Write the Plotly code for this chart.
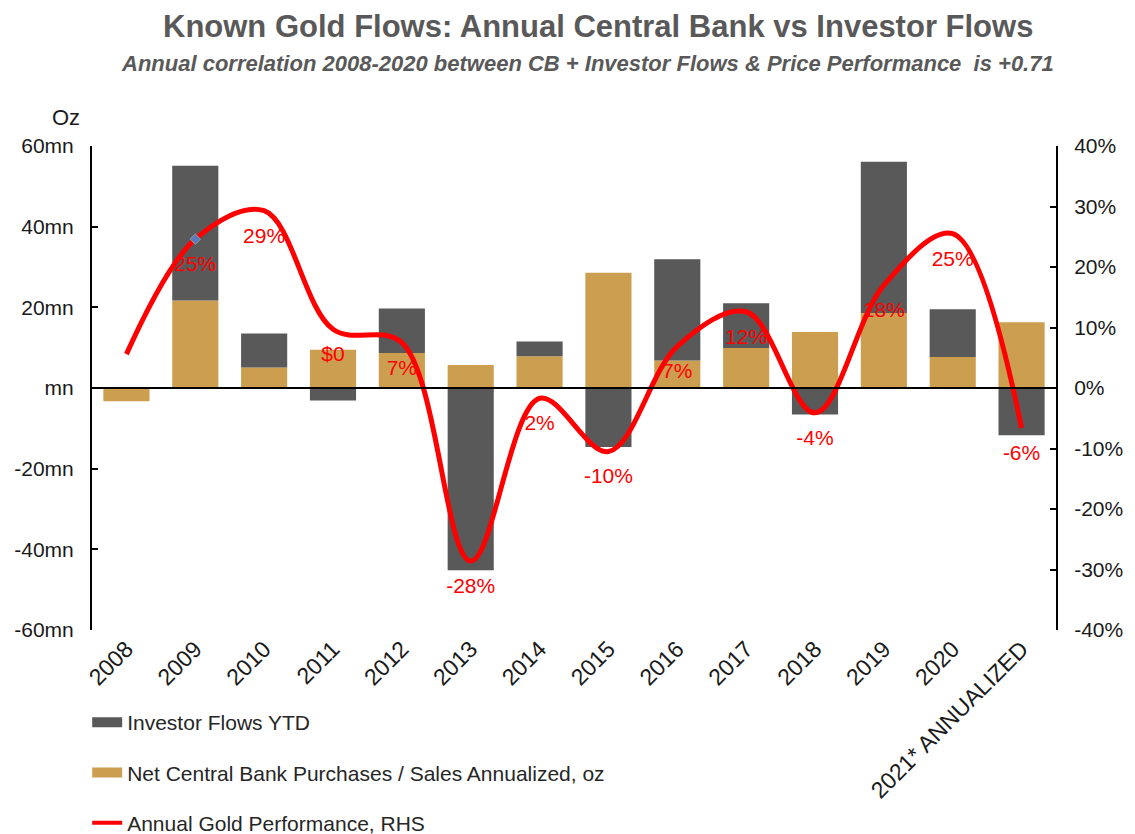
import plotly.graph_objects as go

categories = ["2008", "2009", "2010", "2011", "2012", "2013", "2014", "2015",
              "2016", "2017", "2018", "2019", "2020", "2021* ANNUALIZED"]
# Net central bank purchases / sales (mn oz)
cb_flows = [-3.3, 21.7, 5.1, 9.5, 8.7, 5.7, 7.9, 28.6, 6.8, 9.9, 13.9, 18.6, 7.7, 16.3]
# Investor flows YTD (mn oz)
investor_flows = [0.0, 33.4, 8.4, -3.1, 11.0, -45.2, 3.6, -14.6, 25.1, 11.1, -6.6, 37.5, 11.8, -11.7]
# Annual gold performance (%)
gold_perf = [5.6, 24.6, 29.3, 9.7, 7.5, -28.6, -1.7, -10.5, 6.9, 12.6, -4.1, 17.0, 25.5, -6.6]
perf_labels = ["", "25%", "29%", "$0", "7%", "-28%", "2%", "-10%", "7%", "12%",
               "-4%", "18%", "25%", "-6%"]
left_tickvals = [60, 40, 20, 0, -20, -40, -60]
left_ticktext = ["60mn", "40mn", "20mn", "mn", "-20mn", "-40mn", "-60mn"]
right_tickvals = [40, 30, 20, 10, 0, -10, -20, -30, -40]
right_ticktext = ["40%", "30%", "20%", "10%", "0%", "-10%", "-20%", "-30%", "-40%"]

NAME_INV = "Investor Flows YTD"
NAME_CB = "Net Central Bank Purchases / Sales Annualized, oz"
NAME_PERF = "Annual Gold Performance, RHS"

GOLD = "#CC9E50"
DARK = "#595959"
RED = "#FF0000"
FONT = "Liberation Sans, Arial, sans-serif"
LABEL_OFFSET = -4.4  # label placement below the line, in % units

fig = go.Figure()

fig.add_trace(go.Bar(
    x=categories, y=cb_flows, name=NAME_CB,
    marker=dict(color=GOLD, line=dict(width=0)), showlegend=False,
))
fig.add_trace(go.Bar(
    x=categories, y=investor_flows, name=NAME_INV,
    marker=dict(color=DARK, line=dict(width=0)), showlegend=False,
))
fig.add_trace(go.Scatter(
    x=categories, y=[v + LABEL_OFFSET for v in gold_perf], yaxis="y2",
    mode="text", text=perf_labels, textfont=dict(family=FONT, size=21, color=RED),
    showlegend=False, hoverinfo="skip",
))
fig.add_trace(go.Scatter(
    x=categories, y=gold_perf, yaxis="y2", mode="lines",
    name=NAME_PERF, showlegend=False,
    line=dict(color=RED, width=5, shape="spline", smoothing=1.0),
))
fig.add_trace(go.Scatter(
    x=[categories[1]], y=[gold_perf[1]], yaxis="y2", mode="markers",
    marker=dict(symbol="diamond", size=8, color="#5B7BC0", line=dict(color="#9A9A9A", width=1)),
    showlegend=False, hoverinfo="skip",
))

# legend-only entries (wide swatches like the original)
fig.add_trace(go.Scatter(x=[None], y=[None], mode="lines", name=NAME_INV,
                         line=dict(color=DARK, width=12), legendrank=1, legendgroup="a"))
fig.add_trace(go.Scatter(x=[None], y=[None], mode="lines", name=NAME_CB,
                         line=dict(color=GOLD, width=12), legendrank=2, legendgroup="b"))
fig.add_trace(go.Scatter(x=[None], y=[None], mode="lines", name=NAME_PERF,
                         line=dict(color=RED, width=4), legendrank=3, legendgroup="c"))

fig.add_shape(type="line", xref="paper", x0=0, x1=1, yref="y", y0=0, y1=0,
              line=dict(color="black", width=2), layer="above")

fig.update_layout(
    width=1135, height=834,
    margin=dict(l=92, r=79, t=146, b=204, autoexpand=False),
    paper_bgcolor="white", plot_bgcolor="white",
    barmode="relative", bargap=0.33,
    font=dict(family=FONT, size=21, color="#1a1a1a"),
    xaxis=dict(
        range=[-0.5, len(categories) - 0.5],
        tickangle=-45, showline=False, showgrid=False, zeroline=False, ticks="",
        tickfont=dict(size=23, color="#1a1a1a"), automargin=False,
    ),
    yaxis=dict(
        range=[-60, 60], tickvals=left_tickvals, ticktext=left_ticktext,
        ticks="inside", ticklen=6, tickwidth=2, tickcolor="black",
        showline=True, linecolor="black", linewidth=2, mirror=False,
        showgrid=False, zeroline=False, ticklabelstandoff=12, automargin=False,
        tickfont=dict(size=21, color="#1a1a1a"),
    ),
    yaxis2=dict(
        overlaying="y", side="right", range=[-40, 40],
        tickvals=right_tickvals, ticktext=right_ticktext,
        ticks="inside", ticklen=6, tickwidth=2, tickcolor="black",
        showline=True, linecolor="black", linewidth=2,
        showgrid=False, zeroline=False, ticklabelstandoff=12, automargin=False,
        tickfont=dict(size=21, color="#1a1a1a"),
    ),
    legend=dict(
        x=-0.005, y=-0.149, xanchor="left", yanchor="top",
        orientation="v", tracegroupgap=20, traceorder="grouped",
        font=dict(family=FONT, size=21, color="#262626"),
        bgcolor="rgba(0,0,0,0)",
    ),
    showlegend=True,
)

fig.add_annotation(
    text="<b>Known Gold Flows: Annual Central Bank vs Investor Flows</b>",
    xref="paper", yref="paper", x=0.525, y=1.246, xanchor="center", yanchor="middle",
    showarrow=False, font=dict(family=FONT, size=31, color="#595959"),
)
fig.add_annotation(
    text="<b><i>Annual correlation 2008-2020 between CB + Investor Flows &amp; Price Performance  is +0.71</i></b>",
    xref="paper", yref="paper", x=0.514, y=1.171, xanchor="center", yanchor="middle",
    showarrow=False, font=dict(family=FONT, size=22, color="#595959"),
)
fig.add_annotation(
    text="Oz", xref="paper", yref="paper", x=-0.027, y=1.058, xanchor="center", yanchor="middle",
    showarrow=False, font=dict(family=FONT, size=22, color="#1a1a1a"),
)

fig.write_html("out.html")
